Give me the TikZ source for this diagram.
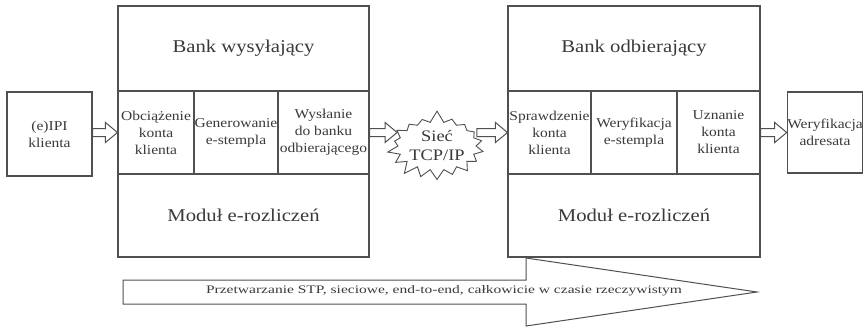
\documentclass[tikz,border=0pt]{standalone}
\usepackage{fontspec}
\setmainfont{Liberation Serif}[FakeStretch=1.15]
\newfontfamily\widefont{Liberation Serif}[FakeStretch=1.35]
\usetikzlibrary{calc,shapes.symbols}
\definecolor{linec}{HTML}{505050}
\definecolor{textc}{HTML}{3A3A3A}
\tikzset{
  box/.style={draw=linec, line width=1.1pt, align=center, inner sep=0pt, text=textc, fill=white},
  cellbox/.style={box, font=\fontsize{13.5}{17}\selectfont, minimum height=83pt},
  headbox/.style={box, font=\fontsize{18}{21}\selectfont, minimum width=251pt},
  blk/.style={draw=linec, line width=1pt, fill=white, line join=miter},
}
\newcommand{\hollowarrow}[3]{%
  \draw[blk] let \p1=(#1), \p2=(#2), \p3=(#3) in
    ({\x1},{\y3+4pt}) -- ({\x2-12pt},{\y3+4pt}) -- ({\x2-12pt},{\y3+10pt}) --
    ({\x2},{\y3}) -- ({\x2-12pt},{\y3-10pt}) -- ({\x2-12pt},{\y3-4pt}) --
    ({\x1},{\y3-4pt}) -- cycle;}
\begin{document}
\begin{tikzpicture}[x=1pt,y=1pt]
\useasboundingbox[fill=white] (0,0) rectangle (866,330);
% left client box
\node[cellbox, minimum width=85pt, minimum height=84pt] (ipi) at (49.5,196) {(e)IPI\\klienta};
% sending bank
\node[headbox, minimum height=85pt] (lhead) at (243.5,281.5) {Bank wysyłający};
\node[cellbox, minimum width=76pt] (l1) at (156,197.5) {Obciążenie\\konta\\klienta};
\node[cellbox, minimum width=84pt] (l2) at (236,197.5) {Generowanie\\e-stempla};
\node[cellbox, minimum width=91pt] (l3) at (323.5,197.5) {Wysłanie\\do banku\\odbierającego};
\node[headbox, minimum height=83pt] (lmod) at (243.5,114.5) {Moduł e-rozliczeń};
% network
\node[starburst, draw=linec, line width=0.9pt, fill=white, text=textc, align=center,
      minimum width=80pt, minimum height=72pt, starburst point height=12pt,
      starburst points=18, random starburst=7, inner sep=0pt,
      font=\fontsize{16}{19}\selectfont] (net) at (437,184) {Sieć\\TCP/IP};
% receiving bank
\node[headbox, minimum width=252pt, minimum height=85pt] (rhead) at (634,281.5) {Bank odbierający};
\node[cellbox, minimum width=83pt] (r1) at (549.5,197.5) {Sprawdzenie\\konta\\klienta};
\node[cellbox, minimum width=86pt] (r2) at (634,197.5) {Weryfikacja\\e-stempla};
\node[cellbox, minimum width=83pt] (r3) at (718.5,197.5) {Uznanie\\konta\\klienta};
\node[headbox, minimum width=252pt, minimum height=83pt] (rmod) at (634,114.5) {Moduł e-rozliczeń};
% addressee
\node[cellbox, minimum width=74pt, minimum height=81pt] (adr) at (825,197.5) {Weryfikacja\\adresata};
% connectors
\hollowarrow{ipi.east}{l1.west}{l1.center}
\hollowarrow{l3.east}{net.west}{l3.center}
\hollowarrow{net.east}{r1.west}{r1.center}
\hollowarrow{r3.east}{adr.west}{r3.center}
% big process arrow
\coordinate (bs) at (123,38);
\coordinate (bt) at (757,38);
\draw[blk] (bs) ++(0,12) -- (526,50) -- (526,72) -- (bt) -- (526,4) -- (526,26) -- ($(bs)+(0,-12)$) -- cycle;
\node[text=textc, font=\widefont\fontsize{11.5}{13}\selectfont, inner sep=0pt] (stp) at (444,39)
  {Przetwarzanie STP, sieciowe, end-to-end, całkowicie w czasie rzeczywistym};
\end{tikzpicture}
\end{document}
